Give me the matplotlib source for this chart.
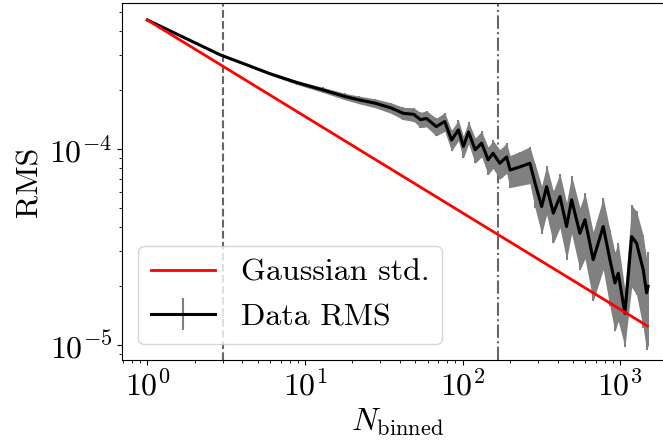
import numpy as np
import matplotlib
matplotlib.use('Agg')
import matplotlib.pyplot as plt

# Gaussian expectation (straight line in log-log)
gauss_n = [1, 1480]
gauss_rms = [4.55e-4, 1.25e-5]

# Data RMS
n_binned = [1, 1.7, 2.9, 4.1, 6.0, 8.9, 13, 18, 22, 28, 35, 42, 49, 54, 59, 68,
            77, 85, 94, 101, 109, 120, 132, 145, 156, 172, 190, 200, 231, 267,
            288, 317, 341, 376, 414, 456, 491, 554, 597, 673, 779, 859, 925,
            970, 1069, 1180, 1268, 1397, 1468, 1500]
rms = [4.55e-4, 3.71e-4, 3.02e-4, 2.72e-4, 2.42e-4, 2.18e-4, 2.00e-4, 1.85e-4,
       1.78e-4, 1.71e-4, 1.62e-4, 1.52e-4, 1.50e-4, 1.41e-4, 1.43e-4, 1.30e-4,
       1.38e-4, 1.11e-4, 1.25e-4, 1.03e-4, 1.22e-4, 9.9e-5, 1.07e-4, 8.8e-5,
       9.5e-5, 8.45e-5, 9.1e-5, 7.8e-5, 8.1e-5, 8.45e-5, 6.68e-5, 5.08e-5,
       6.42e-5, 4.70e-5, 5.71e-5, 4.02e-5, 5.5e-5, 3.71e-5, 4.35e-5, 2.72e-5,
       4.02e-5, 2.72e-5, 2.07e-5, 2.32e-5, 1.45e-5, 3.57e-5, 3.30e-5, 2.42e-5,
       1.84e-5, 1.99e-5]
rms_err = [2.0e-6, 2.5e-6, 3.0e-6, 3.5e-6, 4.0e-6, 5.0e-6, 6.0e-6, 7.0e-6,
           8.0e-6, 9.0e-6, 1.0e-5, 1.1e-5, 1.2e-5, 1.25e-5, 1.35e-5, 1.35e-5,
           1.5e-5, 1.35e-5, 1.5e-5, 1.35e-5, 1.6e-5, 1.45e-5, 1.6e-5, 1.4e-5,
           1.55e-5, 1.45e-5, 1.6e-5, 1.45e-5, 1.6e-5, 1.8e-5, 1.7e-5, 1.4e-5,
           1.8e-5, 1.4e-5, 1.75e-5, 1.3e-5, 1.8e-5, 1.3e-5, 1.6e-5, 1.05e-5,
           1.6e-5, 1.15e-5, 9.0e-6, 1.0e-5, 4.7e-6, 1.6e-5, 1.5e-5, 1.2e-5,
           9.0e-6, 1.0e-5]

vline_dashed = 3
vline_dashdot = 168

plt.rcParams['font.family'] = 'serif'
plt.rcParams['font.serif'] = ['cmr10']
plt.rcParams['mathtext.fontset'] = 'cm'
plt.rcParams['axes.formatter.use_mathtext'] = True
plt.rcParams['font.size'] = 23

fig = plt.figure(figsize=(6.63, 4.43), dpi=100)
ax = fig.add_axes([0.1845, 0.1874, 0.8297, 0.806])

n = np.array(n_binned)
y = np.array(rms)
e = np.array(rms_err)

ax.plot(gauss_n, gauss_rms, color='r', lw=2, label='Gaussian std.', zorder=3)
ax.fill_between(n, y - e, y + e, color='gray', lw=0, zorder=2)
ax.errorbar(n, y, yerr=e, color='k', ecolor='gray', lw=2.2, elinewidth=1.5,
            label='Data RMS', zorder=2.5)

ax.axvline(vline_dashed, color='0.4', ls='--', lw=1.5, zorder=1)
ax.axvline(vline_dashdot, color='0.4', ls='-.', lw=1.5, zorder=1)

ax.set_xscale('log')
ax.set_yscale('log')
ax.set_xlim(0.694, 2140)
ax.set_ylim(8.37e-6, 5.56e-4)

ax.set_xlabel(r'$N_{\rm binned}$')
ax.set_ylabel('RMS')
ax.legend(loc='lower left')

fig.savefig('out.png', dpi=100)
